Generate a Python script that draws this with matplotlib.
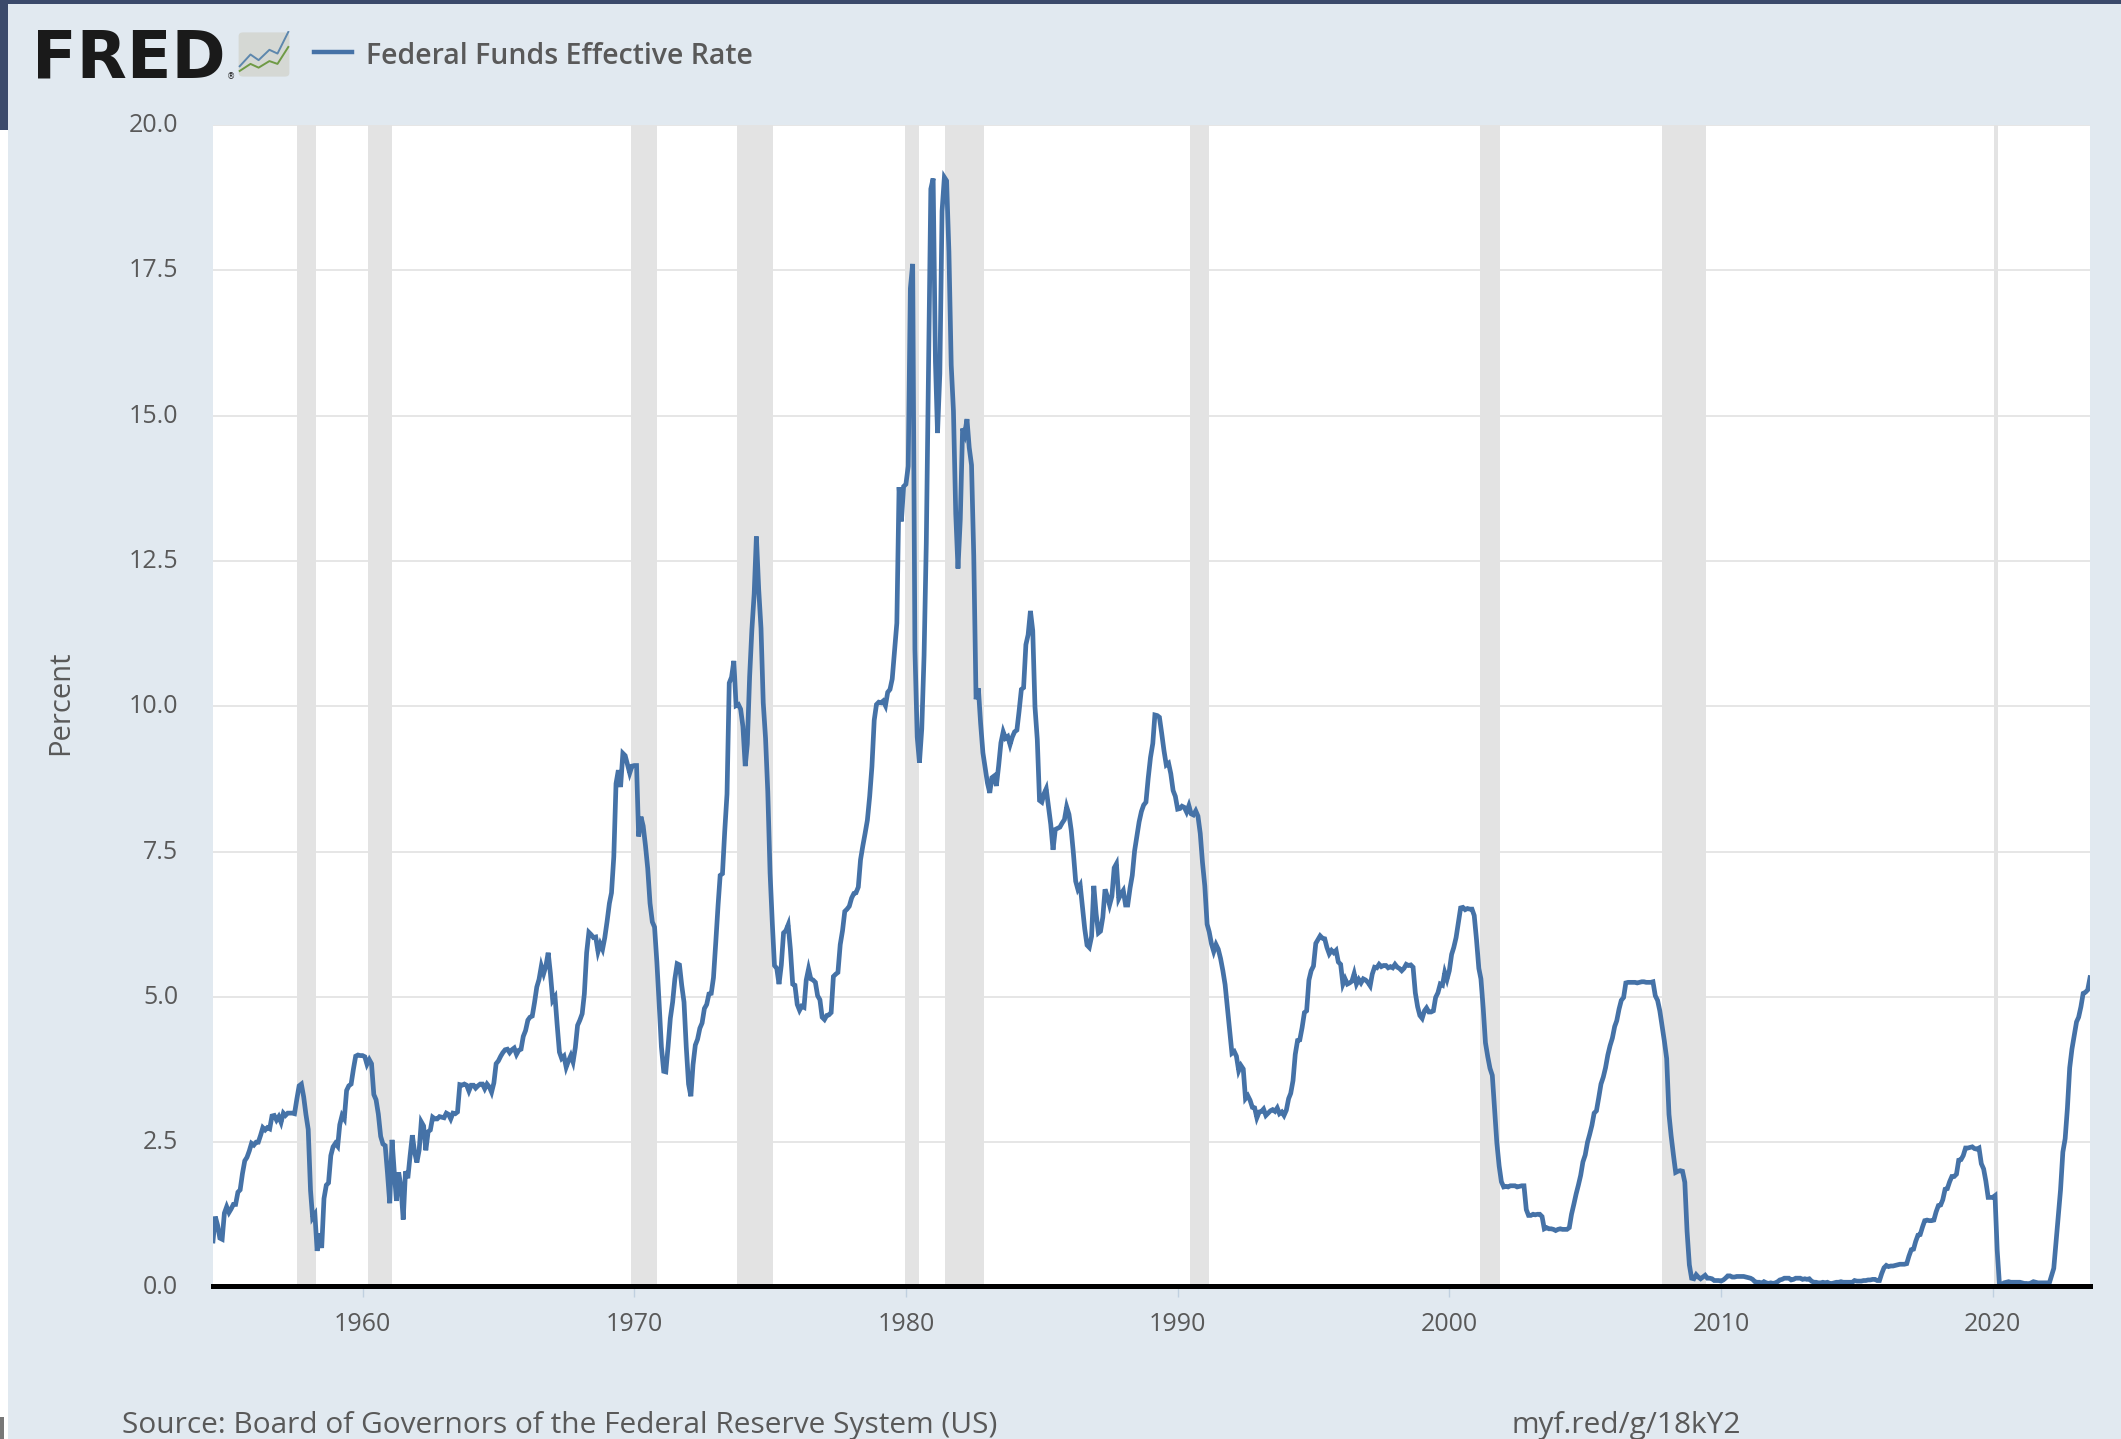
# plot.py
# Federal Funds Effective Rate, FRED style chart

import pandas as pd
import matplotlib.pyplot as plt
from matplotlib.patches import FancyBboxPatch, Rectangle
from matplotlib.transforms import ScaledTranslation

plt.rcParams['font.family'] = ['Open Sans', 'DejaVu Sans']

W, H = 2121, 1439

# monthly values, Jul 1954 to Aug 2023
rates_1950s = [
    0.80, 1.22, 1.07, 0.85, 0.83, 1.28,
    1.39, 1.29, 1.35, 1.43, 1.43, 1.64, 1.68, 1.96, 2.18, 2.24, 2.35, 2.48,
    2.45, 2.50, 2.50, 2.62, 2.75, 2.71, 2.75, 2.73, 2.95, 2.96, 2.88, 2.94,
    2.84, 3.00, 2.96, 3.00, 3.00, 3.00, 2.99, 3.24, 3.47, 3.50, 3.28, 2.98,
    2.72, 1.67, 1.20, 1.26, 0.63, 0.93, 0.68, 1.53, 1.76, 1.80, 2.27, 2.42,
    2.48, 2.43, 2.80, 2.96, 2.90, 3.39, 3.47, 3.50, 3.76, 3.98, 4.00, 3.99,
]
rates_1960s = [
    3.99, 3.97, 3.84, 3.92, 3.85, 3.32, 3.23, 2.98, 2.60, 2.47, 2.44, 1.98,
    1.45, 2.54, 2.02, 1.49, 1.98, 1.73, 1.17, 2.00, 1.88, 2.26, 2.62, 2.33,
    2.15, 2.37, 2.85, 2.78, 2.36, 2.68, 2.71, 2.93, 2.90, 2.90, 2.94, 2.93,
    2.92, 3.00, 2.98, 2.90, 3.00, 2.99, 3.02, 3.49, 3.48, 3.50, 3.48, 3.38,
    3.48, 3.48, 3.43, 3.47, 3.50, 3.50, 3.42, 3.50, 3.45, 3.36, 3.52, 3.85,
    3.90, 3.98, 4.04, 4.09, 4.10, 4.04, 4.09, 4.12, 4.01, 4.08, 4.10, 4.32,
    4.42, 4.60, 4.65, 4.67, 4.90, 5.17, 5.30, 5.53, 5.40, 5.53, 5.76, 5.40,
    4.94, 5.00, 4.53, 4.05, 3.94, 3.98, 3.79, 3.90, 3.99, 3.88, 4.13, 4.51,
    4.60, 4.71, 5.05, 5.76, 6.11, 6.07, 6.02, 6.03, 5.78, 5.91, 5.82, 6.02,
    6.30, 6.61, 6.79, 7.41, 8.67, 8.90, 8.61, 9.19, 9.15, 9.00, 8.85, 8.97,
]
rates_1970s = [
    8.98, 8.98, 7.76, 8.10, 7.94, 7.60, 7.21, 6.61, 6.29, 6.20, 5.60, 4.90,
    4.14, 3.72, 3.71, 4.15, 4.63, 4.91, 5.31, 5.57, 5.55, 5.20, 4.91, 4.14,
    3.50, 3.29, 3.83, 4.17, 4.27, 4.46, 4.55, 4.80, 4.87, 5.05, 5.06, 5.33,
    5.94, 6.58, 7.09, 7.12, 7.84, 8.49, 10.40, 10.50, 10.78, 10.01, 10.03, 9.95,
    9.65, 8.97, 9.35, 10.51, 11.31, 11.93, 12.92, 12.01, 11.34, 10.06, 9.45, 8.53,
    7.13, 6.24, 5.54, 5.49, 5.22, 5.55, 6.10, 6.14, 6.24, 5.82, 5.22, 5.20,
    4.87, 4.77, 4.84, 4.82, 5.29, 5.48, 5.31, 5.29, 5.25, 5.02, 4.95, 4.65,
    4.61, 4.68, 4.69, 4.73, 5.35, 5.39, 5.42, 5.90, 6.14, 6.47, 6.51, 6.56,
    6.70, 6.78, 6.79, 6.89, 7.36, 7.60, 7.81, 8.04, 8.45, 8.96, 9.76, 10.03,
    10.07, 10.06, 10.09, 10.01, 10.24, 10.29, 10.47, 10.94, 11.43, 13.77, 13.18, 13.78,
]
rates_1980s = [
    13.82, 14.13, 17.19, 17.61, 10.98, 9.47, 9.03, 9.61, 10.87, 12.81, 15.85, 18.90,
    19.08, 15.93, 14.70, 15.72, 18.52, 19.10, 19.04, 17.82, 15.87, 15.08, 13.31, 12.37,
    13.22, 14.78, 14.68, 14.94, 14.45, 14.15, 12.59, 10.12, 10.31, 9.71, 9.20, 8.95,
    8.68, 8.51, 8.77, 8.80, 8.63, 8.98, 9.37, 9.56, 9.45, 9.48, 9.34, 9.47,
    9.56, 9.59, 9.91, 10.29, 10.32, 11.06, 11.23, 11.64, 11.30, 9.99, 9.43, 8.38,
    8.35, 8.50, 8.58, 8.27, 7.97, 7.53, 7.88, 7.90, 7.92, 7.99, 8.05, 8.27,
    8.14, 7.86, 7.48, 6.99, 6.85, 6.92, 6.56, 6.17, 5.89, 5.85, 6.04, 6.91,
    6.43, 6.10, 6.13, 6.37, 6.85, 6.73, 6.58, 6.73, 7.22, 7.29, 6.69, 6.77,
    6.83, 6.58, 6.58, 6.87, 7.09, 7.51, 7.75, 8.01, 8.19, 8.30, 8.35, 8.76,
    9.12, 9.36, 9.85, 9.84, 9.81, 9.53, 9.24, 8.99, 9.02, 8.84, 8.55, 8.45,
]
rates_1990s = [
    8.23, 8.24, 8.28, 8.26, 8.18, 8.29, 8.15, 8.13, 8.20, 8.11, 7.81, 7.31,
    6.91, 6.25, 6.12, 5.91, 5.78, 5.90, 5.82, 5.66, 5.45, 5.21, 4.81, 4.43,
    4.03, 4.06, 3.98, 3.73, 3.82, 3.76, 3.25, 3.30, 3.22, 3.10, 3.09, 2.92,
    3.02, 3.03, 3.07, 2.96, 3.00, 3.04, 3.06, 3.03, 3.09, 2.99, 3.02, 2.96,
    3.05, 3.25, 3.34, 3.56, 4.01, 4.25, 4.26, 4.47, 4.73, 4.76, 5.29, 5.45,
    5.53, 5.92, 5.98, 6.05, 6.01, 6.00, 5.85, 5.74, 5.80, 5.76, 5.80, 5.60,
    5.56, 5.22, 5.31, 5.22, 5.24, 5.27, 5.40, 5.22, 5.30, 5.24, 5.31, 5.29,
    5.25, 5.19, 5.39, 5.51, 5.50, 5.56, 5.52, 5.54, 5.54, 5.50, 5.52, 5.50,
    5.56, 5.51, 5.49, 5.45, 5.49, 5.56, 5.54, 5.55, 5.51, 5.07, 4.83, 4.68,
    4.63, 4.76, 4.81, 4.74, 4.74, 4.76, 4.99, 5.07, 5.22, 5.20, 5.42, 5.30,
]
rates_2000s = [
    5.45, 5.73, 5.85, 6.02, 6.27, 6.53, 6.54, 6.50, 6.52, 6.51, 6.51, 6.40,
    5.98, 5.49, 5.31, 4.80, 4.21, 3.97, 3.77, 3.65, 3.07, 2.49, 2.09, 1.82,
    1.73, 1.74, 1.73, 1.75, 1.75, 1.75, 1.73, 1.74, 1.75, 1.75, 1.34, 1.24,
    1.24, 1.26, 1.25, 1.26, 1.26, 1.22, 1.01, 1.03, 1.01, 1.01, 1.00, 0.98,
    1.00, 1.01, 1.00, 1.00, 1.00, 1.03, 1.26, 1.43, 1.61, 1.76, 1.93, 2.16,
    2.28, 2.50, 2.63, 2.79, 3.00, 3.04, 3.26, 3.50, 3.62, 3.78, 4.00, 4.16,
    4.29, 4.49, 4.59, 4.79, 4.94, 4.99, 5.24, 5.25, 5.25, 5.25, 5.25, 5.24,
    5.25, 5.26, 5.26, 5.25, 5.25, 5.25, 5.26, 5.02, 4.94, 4.76, 4.49, 4.24,
    3.94, 2.98, 2.61, 2.28, 1.98, 2.00, 2.01, 2.00, 1.81, 0.97, 0.39, 0.16,
    0.15, 0.22, 0.18, 0.15, 0.18, 0.21, 0.16, 0.16, 0.15, 0.12, 0.12, 0.12,
]
rates_2010s = [
    0.11, 0.13, 0.16, 0.20, 0.20, 0.18, 0.18, 0.19, 0.19, 0.19, 0.19, 0.18,
    0.17, 0.16, 0.14, 0.10, 0.09, 0.09, 0.07, 0.10, 0.08, 0.07, 0.08, 0.07,
    0.08, 0.10, 0.13, 0.14, 0.16, 0.16, 0.16, 0.13, 0.14, 0.16, 0.16, 0.16,
    0.14, 0.15, 0.14, 0.15, 0.11, 0.09, 0.09, 0.08, 0.08, 0.09, 0.08, 0.09,
    0.07, 0.07, 0.08, 0.09, 0.09, 0.10, 0.09, 0.09, 0.09, 0.09, 0.09, 0.12,
    0.11, 0.11, 0.11, 0.12, 0.12, 0.13, 0.13, 0.14, 0.14, 0.12, 0.12, 0.24,
    0.34, 0.38, 0.36, 0.37, 0.37, 0.38, 0.39, 0.40, 0.40, 0.40, 0.41, 0.54,
    0.65, 0.66, 0.79, 0.90, 0.91, 1.04, 1.15, 1.16, 1.15, 1.15, 1.16, 1.30,
    1.41, 1.42, 1.51, 1.69, 1.70, 1.82, 1.91, 1.91, 1.95, 2.19, 2.20, 2.27,
    2.40, 2.40, 2.41, 2.42, 2.39, 2.38, 2.40, 2.13, 2.04, 1.83, 1.55, 1.55,
]
rates_2020s = [
    1.55, 1.58, 0.65, 0.05, 0.05, 0.08, 0.09, 0.10, 0.09, 0.09, 0.09, 0.09,
    0.09, 0.08, 0.07, 0.07, 0.06, 0.08, 0.10, 0.09, 0.08, 0.08, 0.08, 0.08,
    0.08, 0.08, 0.20, 0.33, 0.77, 1.21, 1.68, 2.33, 2.56, 3.08, 3.78, 4.10,
    4.33, 4.57, 4.65, 4.83, 5.06, 5.08, 5.12, 5.33,
]

recession_start = ['1957-08-01', '1960-03-15', '1969-11-15', '1973-10-15', '1979-12-15',
                   '1981-06-15', '1990-06-15', '2001-02-15', '2007-11-01', '2020-01-15']
recession_end = ['1958-04-15', '1961-02-01', '1970-11-01', '1975-02-15', '1980-07-01',
                 '1982-11-15', '1991-03-01', '2001-11-15', '2009-06-15', '2020-03-15']

y_ticks = [0, 2.5, 5, 7.5, 10, 12.5, 15, 17.5, 20]
x_years = [1960, 1970, 1980, 1990, 2000, 2010, 2020]

rates = rates_1950s + rates_1960s + rates_1970s + rates_1980s + rates_1990s + rates_2000s + rates_2010s + rates_2020s
dates = pd.date_range('1954-07-01', periods=len(rates), freq='MS')

BG = '#e1e9f0'
LINE = '#4572a7'
TEXT = '#595959'
NAVY = '#3b4a6b'


def fx(px):
    return px / W


def fy(py):
    return 1 - py / H


fig = plt.figure(figsize=(W / 100, H / 100), dpi=100, facecolor=BG)

# screenshot edges
fig.patches.append(Rectangle((0, fy(4)), 1, 4 / H, transform=fig.transFigure, color=NAVY, lw=0))
fig.patches.append(Rectangle((0, fy(130)), fx(8), 130 / H, transform=fig.transFigure, color=NAVY, lw=0))
fig.patches.append(Rectangle((0, 0), fx(8), fy(130), transform=fig.transFigure, color='white', lw=0))
fig.patches.append(Rectangle((0, 0), fx(4), 22 / H, transform=fig.transFigure, color='#777777', lw=0))

ax = fig.add_axes([fx(213), fy(1287.5), fx(2090 - 213), (1287.5 - 125) / H], facecolor='white')

# moving a spine resets the ticks, so do it before they are set up
for side in ['top', 'left', 'right']:
    ax.spines[side].set_visible(False)
ax.spines['bottom'].set_color('black')
ax.spines['bottom'].set_linewidth(3.6)
ax.spines['bottom'].set_zorder(4)
ax.spines['bottom'].set_position(('outward', -1.2))

ax.plot(dates, rates, color=LINE, linewidth=3.4, solid_joinstyle='miter', zorder=3)

for s, e in zip(recession_start, recession_end):
    ax.axvspan(pd.Timestamp(s), pd.Timestamp(e), color='#e3e3e3', lw=0, zorder=2)

ax.set_xlim(pd.Timestamp('1954-07-01'), pd.Timestamp('2023-08-01'))
ax.set_ylim(0, 20)

ax.set_yticks(y_ticks)
ax.set_yticklabels([f'{v:.1f}' for v in y_ticks], fontsize=18, color=TEXT)
ax.set_xticks([pd.Timestamp(f'{y}-01-01') for y in x_years])
ax.set_xticklabels([str(y) for y in x_years], fontsize=18, color=TEXT)
ax.tick_params(axis='y', length=0, pad=25)
ax.tick_params(axis='x', length=8, width=1, color='#c0d0e0', pad=11)

# y labels sit a little above their grid lines
for label in ax.get_yticklabels():
    label.set_transform(label.get_transform() + ScaledTranslation(0, 2.5 / 100, fig.dpi_scale_trans))

ax.grid(axis='y', color='#e6e6e6', linewidth=1.4, zorder=1)
ax.set_axisbelow(True)

fig.text(fx(61), fy(703), 'Percent', rotation=90, ha='center', va='center', fontsize=21, color=TEXT)

# header: logo, icon and legend
fig.text(fx(32), fy(77), 'FRED', family=['DejaVu Sans'], fontweight='bold', fontsize=47,
         color='#1a1a1a', ha='left', va='baseline')
fig.text(fx(227), fy(79), '®', family=['DejaVu Sans'], fontsize=6, color='#1a1a1a', ha='left', va='baseline')
icon = fig.add_axes([fx(237), fy(78), fx(54), 47 / H])
icon.set_xlim(0, 10)
icon.set_ylim(0, 10)
icon.axis('off')
icon.add_patch(FancyBboxPatch((0.3, 0.3), 9.4, 9.4, boxstyle='round,pad=0,rounding_size=0.8',
                              facecolor='#d5d8d4', edgecolor='none'))
icon.plot([0.5, 2.5, 4, 6, 7.5, 9.5], [2.5, 5, 3.8, 6, 5.2, 9.8], color='#5d87ad', lw=1.4)
icon.plot([0.5, 2.5, 4, 6, 7.5, 9.5], [1.5, 3, 2.2, 3.6, 3, 6.6], color='#6f9a45', lw=1.4)

fig.add_artist(plt.Line2D([fx(314), fx(352)], [fy(52), fy(52)], color=LINE, lw=3.2))
fig.text(fx(366), fy(57), 'Federal Funds Effective Rate', fontsize=20.5, fontweight='semibold',
         color=TEXT, ha='left', va='center')

# footer
fig.text(fx(122), fy(1426), 'Source: Board of Governors of the Federal Reserve System (US)', fontsize=21.5,
         color=TEXT, ha='left', va='center')
fig.text(fx(1512), fy(1426), 'myf.red/g/18kY2', fontsize=21.5, color=TEXT, ha='left', va='center')

fig.savefig('out.png', dpi=100, facecolor=BG)
